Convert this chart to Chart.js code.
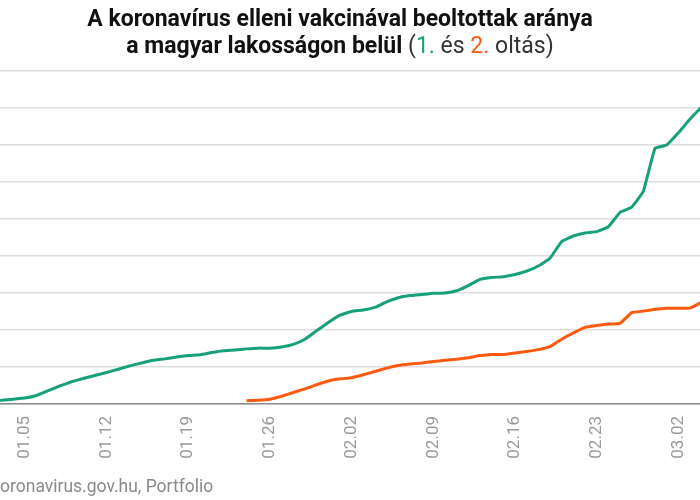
<!DOCTYPE html>
<html><head><meta charset="utf-8">
<script src="https://cdn.jsdelivr.net/npm/chart.js@4.4.1/dist/chart.umd.min.js"></script>
<style>
html,body{margin:0;padding:0;width:700px;height:500px;overflow:hidden;background:#fff;}
body{position:relative;}
#wrap{position:absolute;top:0;height:500px;}
</style></head><body>
<div id="wrap"><canvas id="c"></canvas></div>
<script>
// ---- data ----
const dates = [
 '01.02','01.03','01.04','01.05','01.06','01.07','01.08','01.09','01.10','01.11',
 '01.12','01.13','01.14','01.15','01.16','01.17','01.18','01.19','01.20','01.21',
 '01.22','01.23','01.24','01.25','01.26','01.27','01.28','01.29','01.30','01.31',
 '02.01','02.02','02.03','02.04','02.05','02.06','02.07','02.08','02.09','02.10',
 '02.11','02.12','02.13','02.14','02.15','02.16','02.17','02.18','02.19','02.20',
 '02.21','02.22','02.23','02.24','02.25','02.26','02.27','02.28',
 '03.01','03.02','03.03','03.04'
];
const tickLabels = ['01.05','01.12','01.19','01.26','02.02','02.09','02.16','02.23','03.02'];
const firstDose = [
 0.08,0.10,0.13,0.16,0.23,0.36,0.49,0.60,0.69,0.77,
 0.85,0.94,1.03,1.11,1.18,1.22,1.27,1.31,1.33,1.39,
 1.44,1.46,1.49,1.51,1.51,1.54,1.61,1.75,1.98,2.20,
 2.40,2.50,2.54,2.61,2.76,2.87,2.93,2.96,2.99,3.00,
 3.06,3.20,3.37,3.42,3.44,3.50,3.59,3.73,3.94,4.39,
 4.54,4.62,4.66,4.79,5.18,5.32,5.75,6.91,
 7.00,7.33,7.70,8.03
];
const secondDose = [
 null,null,null,null,null,null,null,null,null,null,
 null,null,null,null,null,null,null,null,null,null,
 null,null,0.09,0.10,0.13,0.21,0.31,0.41,0.52,0.62,
 0.68,0.71,0.79,0.88,0.97,1.04,1.08,1.11,1.15,1.18,
 1.21,1.25,1.31,1.34,1.34,1.38,1.42,1.47,1.55,1.75,
 1.92,2.07,2.12,2.16,2.18,2.47,2.51,2.56,
 2.59,2.59,2.59,2.75
];
const yMax = 9;
const title1 = 'A koronavírus elleni vakcinával beoltottak aránya';
const title2 = 'a magyar lakosságon belül';
const sourceText = 'Forrás: koronavirus.gov.hu, Portfolio';

// ---- styles / layout ----
const GREEN = '#16a07c';
const ORANGE = '#ff5a0f';
const srcFont = '17.5px Roboto';
const mctx = document.createElement('canvas').getContext('2d');
mctx.font = srcFont;
const L = Math.round(mctx.measureText('Forrás: k').width);
const TITLE_CX = 340;
const W = 2 * (TITLE_CX + L);
const AREA_LEFT = -10.2;   // window x of first category
const AREA_RIGHT = 701.7;  // window x of last category
const wrap = document.getElementById('wrap');
wrap.style.left = (-L) + 'px';
wrap.style.width = W + 'px';

const textPlugin = {
  id: 'texts',
  afterDraw(chart) {
    const ctx = chart.ctx;
    ctx.save();
    const cx = W / 2;
    ctx.textBaseline = 'alphabetic';
    ctx.textAlign = 'center';
    ctx.fillStyle = '#111';
    ctx.font = 'bold 23px Roboto';
    ctx.fillText(title1, cx, 26);
    const runs = [
      {t: title2 + ' ', f: 'bold 23px Roboto', c: '#111'},
      {t: '(', f: '23px Roboto', c: '#333'},
      {t: '1.', f: '23px Roboto', c: GREEN},
      {t: ' és ', f: '23px Roboto', c: '#333'},
      {t: '2.', f: '23px Roboto', c: ORANGE},
      {t: ' oltás)', f: '23px Roboto', c: '#333'}
    ];
    let total = 0;
    runs.forEach(r => { ctx.font = r.f; r.w = ctx.measureText(r.t).width; total += r.w; });
    let x = cx - total / 2;
    ctx.textAlign = 'left';
    runs.forEach(r => { ctx.font = r.f; ctx.fillStyle = r.c; ctx.fillText(r.t, x, 53); x += r.w; });
    ctx.font = srcFont;
    ctx.fillStyle = '#8a8a8a';
    ctx.fillText(sourceText, 0, 492);
    ctx.restore();
  }
};

new Chart(document.getElementById('c'), {
  type: 'line',
  data: {
    labels: dates,
    datasets: [
      {label: '1. oltás', data: firstDose, borderColor: GREEN, borderWidth: 3, pointRadius: 0, tension: 0.1, fill: false},
      {label: '2. oltás', data: secondDose, borderColor: ORANGE, borderWidth: 3, pointRadius: 0, tension: 0.1, fill: false}
    ]
  },
  options: {
    responsive: true,
    maintainAspectRatio: false,
    animation: false,
    devicePixelRatio: 1,
    layout: {padding: {top: 71, bottom: 0, left: 0, right: W - (L + AREA_RIGHT)}},
    plugins: {legend: {display: false}, title: {display: false}, tooltip: {enabled: false}},
    scales: {
      x: {
        type: 'category',
        offset: false,
        grid: {display: false, drawTicks: false},
        border: {display: true, color: '#8c8c8c', width: 1.5},
        ticks: {
          autoSkip: false, minRotation: 90, maxRotation: 90, padding: 12,
          color: '#999', font: {family: 'Roboto', size: 17},
          callback: (v, i) => tickLabels.includes(dates[i]) ? dates[i] : null
        },
        afterFit: s => { s.height = 96; }
      },
      y: {
        min: 0, max: yMax,
        ticks: {display: false, stepSize: 1},
        grid: {color: '#dddddd', lineWidth: 1.5, drawTicks: false},
        border: {display: false},
        afterFit: s => { s.width = L + AREA_LEFT; }
      }
    }
  },
  plugins: [textPlugin]
});
</script>
</body></html>
